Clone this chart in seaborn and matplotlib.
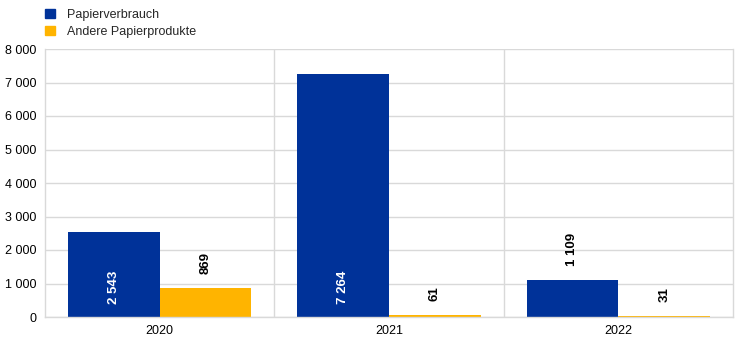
import matplotlib
matplotlib.use("Agg")
import matplotlib.pyplot as plt
import seaborn as sns
import pandas as pd

years = ["2020", "2021", "2022"]
series_names = ["Papierverbrauch", "Andere Papierprodukte"]
papierverbrauch = [2543, 7264, 1109]
andere = [869, 61, 31]
colors = ["#003299", "#FFB400"]
yticks = [0, 1000, 2000, 3000, 4000, 5000, 6000, 7000, 8000]
ytick_labels = ["0", "1 000", "2 000", "3 000", "4 000", "5 000", "6 000", "7 000", "8 000"]

df = pd.DataFrame({
    "year": years * 2,
    "series": [series_names[0]] * 3 + [series_names[1]] * 3,
    "value": papierverbrauch + andere,
})

sns.set_style("white")
plt.rcParams["font.family"] = ["Liberation Sans", "DejaVu Sans"]

fig = plt.figure(figsize=(7.44, 3.45), dpi=100)
ax = fig.add_axes([45 / 744, 28 / 345, 688 / 744, 268 / 345])

sns.barplot(data=df, x="year", y="value", hue="series", order=years,
            hue_order=series_names, palette=colors, width=0.8,
            saturation=1, ax=ax, legend=False, linewidth=0, edgecolor="none")

ax.set_xlim(-0.5, 2.5)
ax.set_ylim(0, 8000)
ax.set_yticks(yticks)
ax.set_yticklabels(ytick_labels)
ax.set_xlabel("")
ax.set_ylabel("")
ax.tick_params(axis="both", length=0, labelsize=9, colors="#000000", pad=6)
ax.yaxis.grid(True, color="#d9d9d9", linewidth=1)
ax.set_axisbelow(True)
for x in [0.5, 1.5]:
    ax.axvline(x, color="#d9d9d9", linewidth=1, zorder=0)
for s in ["left", "bottom", "right"]:
    ax.spines[s].set_color("#d9d9d9")
    ax.spines[s].set_linewidth(1)
ax.spines["top"].set_visible(False)

# bar labels
for ci, cont in enumerate(ax.containers):
    for bar, val in zip(cont.patches, (papierverbrauch, andere)[ci]):
        cx = bar.get_x() + bar.get_width() / 2
        txt = f"{val:,}".replace(",", " ")
        if val > 2000:
            ax.annotate(txt, xy=(cx, 0), xytext=(0, 9), textcoords="offset points",
                        rotation=90, ha="center", va="bottom", color="white",
                        fontsize=9.5, fontweight="bold")
        else:
            ax.annotate(txt, xy=(cx, val), xytext=(0, 10), textcoords="offset points",
                        rotation=90, ha="center", va="bottom", color="black",
                        fontsize=9.5, fontweight="bold")

# legend
from matplotlib.patches import Patch
handles = [Patch(facecolor=c, edgecolor=c) for c in colors]
fig.legend(handles, series_names, loc="upper left", bbox_to_anchor=(36 / 744, 1.0),
           frameon=False, fontsize=9, handlelength=0.8, handleheight=0.8,
           handletextpad=1.0, labelspacing=0.4, borderpad=0.2)

fig.savefig("out.png", dpi=100)
